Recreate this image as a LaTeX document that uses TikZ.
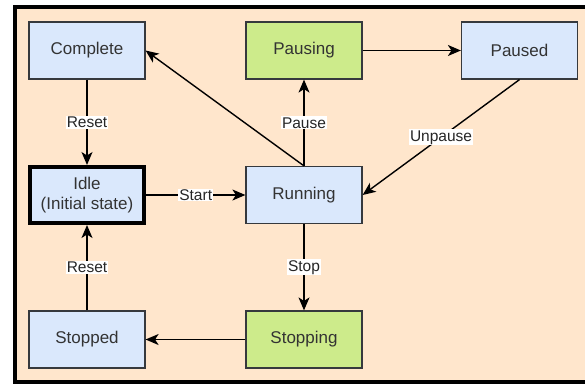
\documentclass[tikz,border=0pt]{standalone}
\usepackage{fontspec}
\setmainfont{Liberation Sans}
\usetikzlibrary{arrows.meta}
\definecolor{peach}{HTML}{FFE6CC}
\definecolor{stblue}{HTML}{DAE8FC}
\definecolor{stgreen}{HTML}{CDEB8B}
\definecolor{stline}{HTML}{36393D}
\tikzset{
  state/.style={draw=stline,line width=1.2pt,fill=stblue,minimum width=116pt,minimum height=57pt,
    align=center,font=\fontsize{17}{20.5}\selectfont,text=black!80},
  busy/.style={state,fill=stgreen},
  initial/.style={state,line width=4pt,draw=black,minimum width=114pt,minimum height=56pt},
  trans/.style={line width=1.4pt,-{Stealth[length=13pt,width=11pt,inset=3.5pt]}},
  lbl/.style={fill=white,inner sep=1pt,font=\fontsize{15.5}{18}\selectfont,text=black!85}
}
\begin{document}
\begin{tikzpicture}[x=1pt,y=1pt]
		\def\ca{87}
		\def\cb{304}
		\def\cc{519.5}
		\def\ra{-50.5}
		\def\rb{-195}
		\def\rc{-339.5}
		\useasboundingbox (0,0) rectangle (585,-383);
		\draw[line width=4pt,fill=peach] (15,-7) rectangle (600,-382);
		% states
		\node[state] (complete) at (\ca,\ra) {Complete};
		\node[busy] (pausing) at (\cb,\ra) {Pausing};
		\node[state] (paused) at (\cc,\ra) {Paused};
		\node[initial] (idle) at (\ca,\rb) {Idle\\(Initial state)};
		\node[state] (running) at (\cb,\rb) {Running};
		\node[state] (stopped) at (\ca,\rc) {Stopped};
		\node[busy] (stopping) at (\cb,\rc) {Stopping};
		% transitions
		\draw[trans] (complete) -- node[lbl]{Reset} (idle);
		\draw[trans] (stopped) -- node[lbl]{Reset} (idle);
		\draw[trans] (idle) -- node[lbl]{Start} (running);
		\draw[trans] (running) -- node[lbl]{Pause} (pausing);
		\draw[trans] (running) -- node[lbl]{Stop} (stopping);
		\draw[trans] (pausing) -- (paused);
		\draw[trans] (stopping) -- (stopped);
		\draw[trans] (paused.south) -- node[lbl]{Unpause} (running.east);
		\draw[trans] (running.north) -- (complete.east);
\end{tikzpicture}
\end{document}
